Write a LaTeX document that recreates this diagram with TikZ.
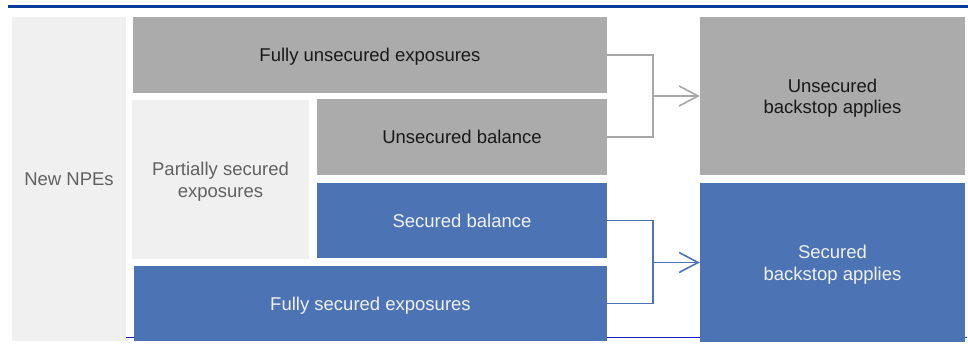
\documentclass[tikz,border=0pt]{standalone}
\usepackage{fontspec}
\setmainfont{Liberation Sans}
\usetikzlibrary{arrows.meta}

\definecolor{topblue}{HTML}{0A3A9A}
\definecolor{lineblue}{HTML}{1A1AC8}
\definecolor{boxblue}{HTML}{4C74B5}
\definecolor{boxgrey}{HTML}{ABABAB}
\definecolor{boxlight}{HTML}{F0F0F0}
\definecolor{linkgrey}{HTML}{A8A8A8}

\begin{document}
\begin{tikzpicture}
	[x=1pt,y=-1pt,>={Straight Barb[length=19pt,width=20pt]},
	every node/.style={inner sep=0pt,align=center,font=\fontsize{18.5}{21.7}\selectfont,
		text height=13.4pt,text depth=0pt},
	twoline/.style={text height=36pt},
	lightbox/.style={fill=boxlight,text=black!62},
	greybox/.style={fill=boxgrey,text=black!90},
	bluebox/.style={fill=boxblue,text=boxlight},
	link/.style={line width=1.6pt}]
	\useasboundingbox (0,0) rectangle (968,347);
	\draw[topblue,line width=2.5pt] (8,6.5) -- (968,6.5);
	\draw[lineblue,line width=1pt] (126,337) -- (967,337);
	
	\node[lightbox,minimum width=114,minimum height=324] (npe) at (69,179) {New NPEs};
	\node[greybox,minimum width=474,minimum height=76] (fullun) at (370,55) {Fully unsecured exposures};
	\node[lightbox,twoline,minimum width=177,minimum height=159] (partial) at (220.5,179.5) {Partially secured\\exposures};
	\node[greybox,minimum width=290,minimum height=76] (unbal) at (462,137) {Unsecured balance};
	\node[bluebox,minimum width=290,minimum height=75] (secbal) at (462,220.5) {Secured balance};
	\node[bluebox,minimum width=473,minimum height=75] (fullsec) at (370.5,303.5) {Fully secured exposures};
	\node[greybox,twoline,minimum width=265,minimum height=158] (unback) at (832.5,96) {Unsecured\\backstop applies};
	\node[bluebox,twoline,minimum width=265,minimum height=159] (secback) at (832.5,262.5) {Secured\\backstop applies};
	
	\coordinate (jun) at (653,96);
	\coordinate (jsec) at (653,262.5);
	\draw[link,linkgrey] (fullun.east) -| (jun) |- (unbal.east);
	\draw[link,linkgrey,->] (jun) -- (unback.west);
	\draw[link,boxblue] (secbal.east) -| (jsec) |- (fullsec.east);
	\draw[link,boxblue,->] (jsec) -- (secback.west);
\end{tikzpicture}
\end{document}
